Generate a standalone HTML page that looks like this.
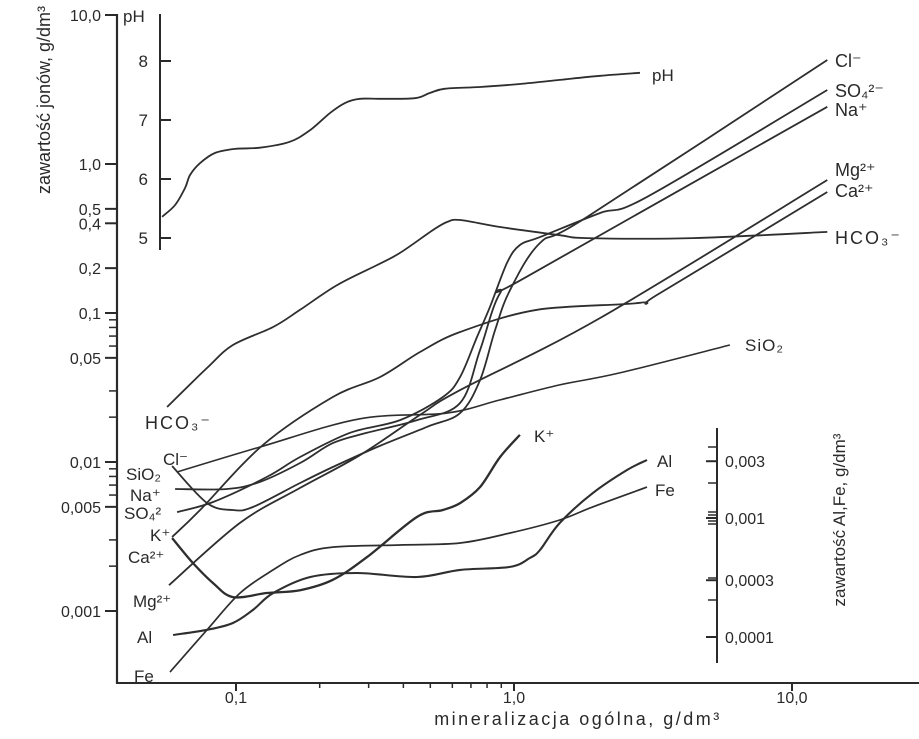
<!DOCTYPE html>
<html><head><meta charset="utf-8"><style>
body{margin:0;background:#fff;}
svg{display:block;font-family:"Liberation Sans",sans-serif;}
text{fill:#2a2a2a;}
</style></head><body>
<svg id="chart" width="919" height="739" viewBox="0 0 919 739">
<g id="axes"></g>
<g id="series"></g>
<g id="labels">
<text x="835" y="67" font-size="18">Cl⁻</text>
<text x="835" y="97" font-size="18">SO₄²⁻</text>
<text x="835" y="116" font-size="18">Na⁺</text>
<text x="835" y="176" font-size="18">Mg²⁺</text>
<text x="835" y="197" font-size="18">Ca²⁺</text>
<text x="835" y="244" font-size="18" letter-spacing="2">HCO₃⁻</text>
<text x="745" y="351" font-size="17" letter-spacing="1">SiO₂</text>
<text x="652" y="81" font-size="17">pH</text>
<text x="534" y="442" font-size="17">K⁺</text>
<text x="657" y="467" font-size="17">Al</text>
<text x="655" y="496" font-size="17">Fe</text>
<text x="145" y="429" font-size="18" letter-spacing="2">HCO₃⁻</text>
<text x="163" y="465" font-size="17">Cl⁻</text>
<text x="126" y="480" font-size="17">SiO₂</text>
<text x="130" y="501" font-size="17">Na⁺</text>
<text x="124" y="519" font-size="17">SO₄²</text>
<text x="150" y="541" font-size="17">K⁺</text>
<text x="128" y="563" font-size="17">Ca²⁺</text>
<text x="133" y="607" font-size="17">Mg²⁺</text>
<text x="137" y="643" font-size="17">Al</text>
<text x="134" y="682" font-size="17">Fe</text>
</g>
<text transform="translate(50,100) rotate(-90)" text-anchor="middle" font-size="18">zawartość jonów, g/dm³</text>
<text transform="translate(845,520) rotate(-90)" text-anchor="middle" font-size="17">zawartość  Al,Fe, g/dm³</text>
<text x="578" y="725" text-anchor="middle" font-size="18" letter-spacing="2.5">mineralizacja  ogólna, g/dm³</text>
</svg>
<script>
// ---- data ----
const xTicks=[0.1,1,10];
const xTickLabels=["0,1","1,0","10,0"];
const xMinor=[0.2,0.3,0.4,0.5,0.6,0.7,0.8,0.9];
const yTicks=[10,1,0.5,0.4,0.2,0.1,0.05,0.01,0.005,0.001];
const yTickLabels=["10,0","1,0","0,5","0,4","0,2","0,1","0,05","0,01","0,005","0,001"];
const yMinor=[0.09,0.08,0.07,0.06,0.03,0.02,0.009,0.008,0.007,0.006,0.003,0.002];
const phTicks=[8,7,6,5];
const rTicks=[0.003,0.001,0.0003,0.0001];
const rTickLabels=["0,003","0,001","0,0003","0,0001"];

const phX=[0.0542,0.0604,0.0656,0.0684,0.0743,0.0840,0.0992,0.122,0.156,0.185,0.218,0.247,0.279,0.330,0.440,0.499,0.565,0.755,1.05,1.46,2.04,2.84];
const phY=[5.36,5.56,5.85,6.07,6.27,6.44,6.51,6.53,6.63,6.83,7.12,7.29,7.36,7.36,7.37,7.46,7.53,7.56,7.61,7.68,7.75,7.80];
const hco3X=[0.0565,0.0787,0.0975,0.136,0.170,0.231,0.322,0.389,0.512,0.574,0.640,0.891,1.46,1.83,4.40,13.4];
const hco3Y=[0.0234,0.0428,0.0610,0.0805,0.105,0.154,0.210,0.253,0.361,0.408,0.421,0.378,0.333,0.318,0.318,0.350];
const clX=[0.0589,0.0787,0.0975,0.1151,0.170,0.223,0.322,0.486,0.640,0.755,0.855,0.968,1.24,1.83,13.4];
const clY=[0.0094,0.0053,0.00476,0.00499,0.00723,0.00925,0.0126,0.0172,0.0213,0.0355,0.0769,0.143,0.295,0.441,4.99];
const naX=[0.0604,0.0928,0.122,0.170,0.223,0.296,0.448,0.640,0.755,0.891,1.11,13.4];
const naY=[0.00659,0.00659,0.00735,0.00984,0.0134,0.0157,0.0191,0.0249,0.0565,0.136,0.175,2.42];
const so4X=[0.0614,0.0827,0.129,0.170,0.257,0.389,0.555,0.640,0.736,0.820,0.944,1.05,1.24,2.04,3.01,13.4];
const so4Y=[0.00461,0.00539,0.00793,0.0108,0.0157,0.0191,0.0273,0.0372,0.069,0.110,0.217,0.286,0.323,0.469,0.601,3.14];
const caX=[0.0589,0.0743,0.125,0.223,0.330,0.459,0.640,1.21,2.84,3.35,13.4];
const caY=[0.00314,0.00476,0.013,0.0273,0.0372,0.0547,0.0745,0.105,0.117,0.136,0.649];
const mgX=[0.0574,0.1034,0.170,0.279,0.459,0.640,2.04,13.4];
const mgY=[0.00149,0.0039,0.0067,0.0111,0.0207,0.0304,0.0925,0.781];
const sio2X=[0.0614,0.122,0.279,0.574,0.891,1.46,2.40,5.98];
const sio2Y=[0.00857,0.0126,0.0195,0.0213,0.0261,0.0329,0.0396,0.061];
const kX=[0.0589,0.070,0.0827,0.0975,0.129,0.170,0.223,0.296,0.448,0.555,0.640,0.755,0.891,1.05];
const kY=[0.00309,0.0021,0.00154,0.00124,0.00132,0.00138,0.00162,0.0023,0.00428,0.00476,0.0053,0.0068,0.0108,0.0152];
const alX=[0.0594,0.0787,0.0975,0.1151,0.136,0.185,0.272,0.448,0.640,0.968,1.14,1.24,1.46,1.92,2.55,3.01];
const alY=[0.000104,0.000115,0.000131,0.000169,0.000234,0.000319,0.000345,0.000319,0.000366,0.000388,0.000461,0.000538,0.000908,0.00162,0.00253,0.00307];
const feX=[0.0579,0.0787,0.1034,0.136,0.170,0.223,0.389,0.640,0.968,1.46,1.92,3.01];
const feY=[0.0000508,0.000115,0.000234,0.000366,0.000489,0.000570,0.000593,0.000616,0.000748,0.000962,0.00124,0.00182];

// ---- scales ----
const X=v=>236+278*Math.log10(v/0.1);
const Y=v=>15+149*(1-Math.log10(v));
const PH=v=>61+59*(8-v);
const YR=v=>518+119*(-3-Math.log10(v));
const NS="http://www.w3.org/2000/svg";
const axes=document.getElementById('axes'), ser=document.getElementById('series');
function mk(tag,attrs,parent){const e=document.createElementNS(NS,tag);for(const k in attrs)e.setAttribute(k,attrs[k]);parent.appendChild(e);return e;}
function line(x1,y1,x2,y2,name,w){const e=mk('line',{x1,y1,x2,y2,stroke:'#2a2a2a','stroke-width':w||2},axes);

return e;}
function txt(x,y,s,name,anchor,size){const e=mk('text',{x,y,'font-size':size||16,'text-anchor':anchor||'end'},axes);e.textContent=s;

return e;}

// main axes
line(117,14,117,684,'y-axis-line',2.2);
line(116,683,919,683,'x-axis-line',2);
xTicks.forEach((v,i)=>{line(X(v),683,X(v),691,'x-tick',2);txt(X(v),703,xTickLabels[i],'x-tick-label','middle',16);});
xMinor.forEach(v=>{line(X(v),683,X(v),688,'x-minor-tick',1.5);});
yTicks.forEach((v,i)=>{line(105,Y(v),117,Y(v),'y-tick',2);txt(101,Y(v)+6,yTickLabels[i],'y-tick-label','end',16);});
yMinor.forEach(v=>{line(109,Y(v),117,Y(v),'y-minor-tick',1.5);});
// pH axis
line(160,14,160,250,'ph-axis-line',2);
phTicks.forEach(v=>{line(160,PH(v),171,PH(v),'ph-tick',2);txt(148,PH(v)+6,String(v),'ph-tick-label','end',17);});
txt(123,22,'pH','ph-axis-title','start',17);
// right Al/Fe axis
line(717,428,717,663,'right-axis-line',2);
rTicks.forEach((v,i)=>{line(706,YR(v),717,YR(v),'right-tick',2);txt(725,YR(v)+6,rTickLabels[i],'right-tick-label','start',16);});
[447,483,512,515,521,524,578,600].forEach(p=>{line(708,p,717,p,'right-minor-tick',1.5);});

// smooth path (Catmull-Rom)
function path(pts){let d=`M${pts[0][0].toFixed(1)},${pts[0][1].toFixed(1)}`;
for(let i=0;i<pts.length-1;i++){const p0=pts[i-1]||pts[i],p1=pts[i],p2=pts[i+1],p3=pts[i+2]||p2;
const c1=[p1[0]+(p2[0]-p0[0])/6,p1[1]+(p2[1]-p0[1])/6],c2=[p2[0]-(p3[0]-p1[0])/6,p2[1]-(p3[1]-p1[1])/6];
d+=` C${c1[0].toFixed(1)},${c1[1].toFixed(1)} ${c2[0].toFixed(1)},${c2[1].toFixed(1)} ${p2[0].toFixed(1)},${p2[1].toFixed(1)}`;}
return d;}
function series(xs,ys,ys2,name,w){const pts=xs.map((x,i)=>[X(x),ys2(ys[i])]);
const e=mk('path',{d:path(pts),fill:'none',stroke:'#2e2e2e','stroke-width':w||1.8,'stroke-linejoin':'round'},ser);

}
series(phX,phY,PH,'ph-line');
series(hco3X,hco3Y,Y,'hco3-line');
series(clX,clY,Y,'cl-line');
series(naX,naY,Y,'na-line');
series(so4X,so4Y,Y,'so4-line');
series(caX,caY,Y,'ca-line');
series(mgX,mgY,Y,'mg-line');
series(sio2X,sio2Y,Y,'sio2-line',1.6);
series(kX,kY,Y,'k-line',2.3);
series(alX,alY,YR,'al-line',2.1);
series(feX,feY,YR,'fe-line',1.7);
</script>
</body></html>
